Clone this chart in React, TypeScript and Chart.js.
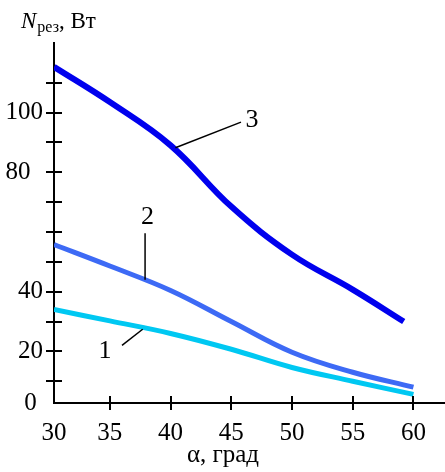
import React, { useEffect, useRef } from 'react';
import { Chart, registerables } from 'chart.js';

Chart.register(...registerables);

// Data (angle α in degrees, cutting power N in W)
const alpha1 = [30.4, 35, 40, 45, 50, 55, 60];
const power1 = [34, 30.2, 26, 20.7, 14.6, 10, 5.6];

const alpha2 = [30.4, 35, 40, 45, 50, 55, 60];
const power2 = [55.8, 48.6, 40.4, 30, 19.7, 13, 8];

const alpha3 = [30.4, 35, 40, 45, 50, 55, 59.2];
const power3 = [115.3, 103.5, 89, 68.5, 52.4, 40.7, 30];

const xMin = 30.4;
const xMax = 62.6;
const yMin = 2.7;
const yMax = 123.3;
const xTicks = [35, 40, 45, 50, 55, 60];
const yTicks = [10, 20, 30, 40, 50, 60, 70, 80, 90, 100, 110];
const yLabels: Record<number, string> = { 20: '20', 40: '40', 80: '80  ', 100: '100' };

// Curve number callouts
const calloutNames = ['1', '2', '3'];
const calloutText = [[34.6, 20], [38.1, 64.8], [46.7, 97.5]];
const calloutLines = [
  [36.0, 22.0, 37.7, 27.4],
  [37.9, 59.6, 37.9, 44.0],
  [45.8, 96.8, 40.4, 88.2],
];

const SERIF = '"Liberation Serif", "Times New Roman", serif';

export default function App() {
  const ref = useRef<HTMLCanvasElement>(null);
  useEffect(() => {
    const canvas = ref.current!;
    const decor = {
      id: 'decor',
      afterDraw(chart: any) {
        const ctx = chart.ctx;
        const xs = chart.scales.x;
        const ys = chart.scales.y;
        const ax = xs.getPixelForValue(xMin);
        const ay = ys.getPixelForValue(yMin);
        ctx.save();
        ctx.strokeStyle = '#000';
        ctx.lineWidth = 2;
        ctx.beginPath();
        for (const v of yTicks) {
          const p = Math.round(ys.getPixelForValue(v));
          ctx.moveTo(ax - 8, p);
          ctx.lineTo(ax + 8, p);
        }
        for (const v of xTicks) {
          const p = Math.round(xs.getPixelForValue(v));
          ctx.moveTo(p, ay - 7);
          ctx.lineTo(p, ay + 7);
        }
        ctx.stroke();
        // callouts
        ctx.lineWidth = 1.5;
        ctx.fillStyle = '#000';
        ctx.font = '26px ' + SERIF;
        ctx.textAlign = 'center';
        ctx.textBaseline = 'middle';
        calloutNames.forEach((n, i) => {
          const l = calloutLines[i];
          ctx.beginPath();
          ctx.moveTo(xs.getPixelForValue(l[0]), ys.getPixelForValue(l[1]));
          ctx.lineTo(xs.getPixelForValue(l[2]), ys.getPixelForValue(l[3]));
          ctx.stroke();
          ctx.fillText(n, xs.getPixelForValue(calloutText[i][0]), ys.getPixelForValue(calloutText[i][1]));
        });
        // axis titles
        ctx.textAlign = 'center';
        ctx.textBaseline = 'alphabetic';
        ctx.font = '25px ' + SERIF;
        ctx.fillText('α, град', 223, 462);
        ctx.textAlign = 'left';
        ctx.font = 'italic 23px ' + SERIF;
        ctx.fillText('N', 21, 28);
        const w = ctx.measureText('N').width;
        ctx.font = '16px ' + SERIF;
        ctx.fillText('рез', 21 + w + 1, 32);
        const w2 = ctx.measureText('рез').width;
        ctx.font = '23px ' + SERIF;
        ctx.fillText(', Вт', 21 + w + 1 + w2, 28);
        ctx.restore();
      },
    };
    const mk = (xs: number[], ys: number[], color: string, width: number) => ({
      data: xs.map((x, i) => ({ x, y: ys[i] })),
      borderColor: color,
      borderWidth: width,
      pointRadius: 0,
      fill: false,
      tension: 0.4,
      borderCapStyle: 'butt' as const,
    });
    const chart = new Chart(canvas, {
      type: 'line',
      data: {
        datasets: [
          mk(alpha1, power1, '#00c8f2', 5),
          mk(alpha2, power2, '#3d6af5', 5),
          mk(alpha3, power3, '#0000ee', 6),
        ],
      },
      options: {
        animation: false,
        responsive: false,
        events: [],
        layout: { padding: { top: 43, right: 0, left: 0, bottom: 0 } },
        plugins: { legend: { display: false }, tooltip: { enabled: false } },
        scales: {
          x: {
            type: 'linear',
            min: xMin,
            max: xMax,
            grid: { display: false },
            border: { display: true, color: '#000', width: 2 },
            afterBuildTicks: (s: any) => {
              s.ticks = [xMin, ...xTicks].map((v) => ({ value: v }));
            },
            afterFit: (s: any) => {
              s.height = 69;
            },
            ticks: {
              autoSkip: false,
              maxRotation: 0,
              padding: 7,
              color: '#000',
              font: { family: SERIF, size: 25 },
              callback: (v: any) => (v === xMin ? '30' : String(v)),
            },
          },
          y: {
            type: 'linear',
            min: yMin,
            max: yMax,
            grid: { display: false },
            border: { display: true, color: '#000', width: 2 },
            afterBuildTicks: (s: any) => {
              s.ticks = [yMin, ...yTicks].map((v) => ({ value: v }));
            },
            afterFit: (s: any) => {
              s.width = 54;
            },
            ticks: {
              autoSkip: false,
              padding: 3,
              color: '#000',
              font: { family: SERIF, size: 25 },
              callback: (v: any) => (v === yMin ? '0 ' : yLabels[v] ?? ''),
            },
          },
        },
      },
      plugins: [decor],
    });
    return () => chart.destroy();
  }, []);
  return (
    <div style={{ position: 'absolute', left: 0, top: 0, width: 445, height: 472, background: '#fff' }}>
      <canvas ref={ref} width={445} height={472} />
    </div>
  );
}
